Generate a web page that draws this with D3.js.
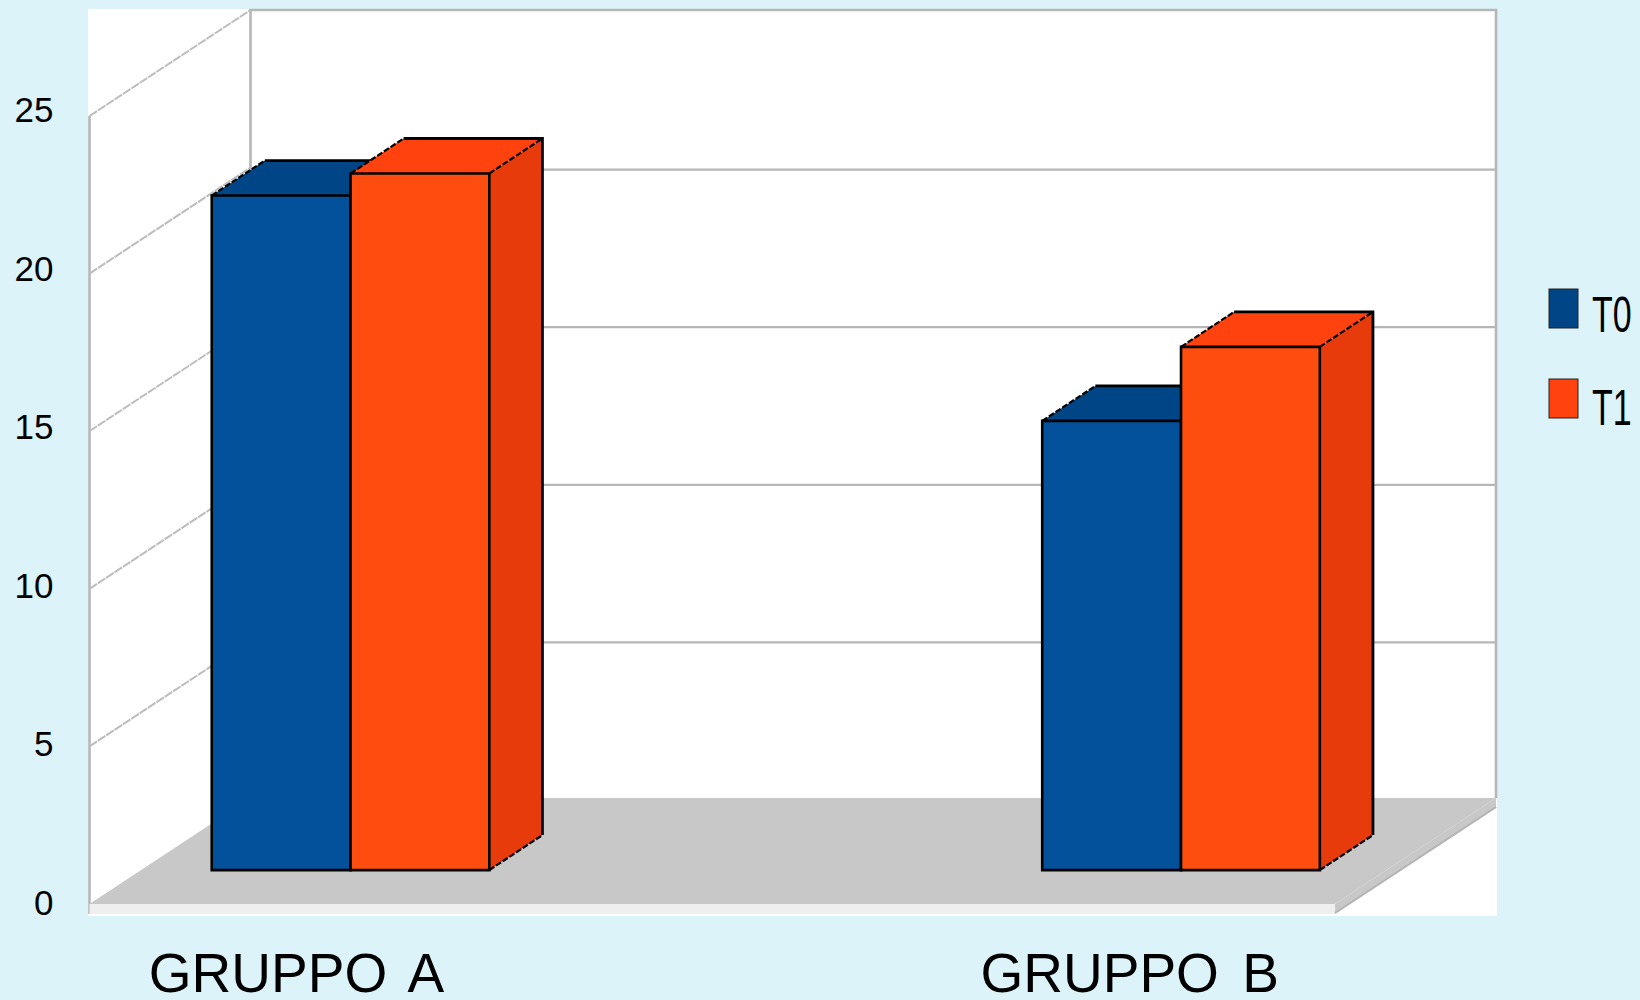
<!DOCTYPE html>
<html>
<head>
<meta charset="utf-8">
<style>
  html, body { margin: 0; padding: 0; background: #dcf4f9; }
  svg { display: block; }
  text { font-family: "Liberation Sans", Arial, sans-serif; fill: #000; }
</style>
<script src="https://cdn.jsdelivr.net/npm/d3@7"></script>
</head>
<body>
<svg id="chart" width="1640" height="1000"></svg>
<script>
const categories = ["GRUPPO A", "GRUPPO B"];
const seriesNames = ["T0", "T1"];
const valuesT0 = [21.4, 14.25];
const valuesT1 = [22.1, 16.6];
const yTicks = [0, 5, 10, 15, 20, 25];

const faceColors = {
  T0: { front: "#03509b", top: "#004586", side: "#004586", key: "#004586" },
  T1: { front: "#ff4d0f", top: "#ff420e", side: "#e83b0b", key: "#ff420e" }
};
const gridColor = "#b6b6b6";

const svg = d3.select("#chart");

// Oblique projection: a point is given by its x on the front plane, its value,
// and a depth from 0 (front of the floor) to 1 (back wall).
const DEPTH_X = 161, DEPTH_Y = 106;
const xFront = d3.scaleLinear().domain([0, 1]).range([89.5, 1335]);
const yWall = d3.scaleLinear().domain([0, 25]).range([904, 116]);
const project = (x, v, d) => [x + d * DEPTH_X, yWall(v) - d * DEPTH_Y];
const poly = pts => pts.map(p => p.join(",")).join(" ");

const xGroup = d3.scalePoint().domain(categories).range([299, 1129.5]);
const barWidth = 138.8;
const xSeries = d3.scaleBand().domain(seriesNames).range([-barWidth, barWidth]);
const BAR_NEAR = 0.32, BAR_FAR = 0.65;

// Plot background
svg.append("rect").attr("x", 88).attr("y", 9).attr("width", 1409).attr("height", 907).attr("fill", "#fff");

// Back wall: gridlines and frame
const x0 = xFront(0), x1 = xFront(1);
const backGridY = d3.scaleLinear().domain([0, 25]).range([800, 12]);
const back = svg.append("g").attr("fill", "none").attr("stroke", gridColor);
back.selectAll("line.grid").data(yTicks.filter(t => t > 0 && t < 25)).join("line")
  .attr("class", "grid")
  .attr("x1", project(x0, 0, 1)[0]).attr("x2", project(x1, 0, 1)[0])
  .attr("y1", d => backGridY(d)).attr("y2", d => backGridY(d))
  .attr("stroke-width", 2.2);
back.append("polyline")
  .attr("points", poly([project(x0, 0, 1), project(x0, 25, 1), project(x1, 25, 1), project(x1, 0, 1)]))
  .attr("stroke-width", 2.6);

// Left wall: vertical edge and receding gridlines
const wall = svg.append("g").attr("fill", "none").attr("stroke", gridColor);
wall.append("line")
  .attr("x1", x0).attr("x2", x0).attr("y1", yWall(25)).attr("y2", 914)
  .attr("stroke-width", 2.6);
wall.selectAll("line.depth").data(yTicks.filter(t => t > 0)).join("line")
  .attr("class", "depth")
  .attr("x1", d => project(x0, d, 0)[0]).attr("y1", d => project(x0, d, 0)[1])
  .attr("x2", d => project(x0, d, 1)[0]).attr("y2", d => project(x0, d, 1)[1])
  .attr("stroke", "#bdbdbd").attr("stroke-width", 2).attr("stroke-dasharray", "9 1");

// Floor slab: front lip, right side and top face
svg.append("rect")
  .attr("x", x0).attr("y", yWall(0)).attr("width", x1 - x0).attr("height", 10)
  .attr("fill", "#efefef");
svg.append("polygon")
  .attr("points", poly([project(x1, 0, 0), project(x1, 0, 1),
    [project(x1, 0, 1)[0], project(x1, 0, 1)[1] + 10], [x1, yWall(0) + 10]]))
  .attr("fill", "#c8c8c8");
svg.append("line")
  .attr("x1", project(x1, 0, 1)[0]).attr("y1", project(x1, 0, 1)[1] + 9)
  .attr("x2", x1).attr("y2", yWall(0) + 9)
  .attr("stroke", "#b4b4b4").attr("stroke-width", 2);
svg.append("polygon")
  .attr("points", poly([project(x0, 0, 0), project(x0, 0, 1), project(x1, 0, 1), project(x1, 0, 0)]))
  .attr("fill", "#c8c8c8");

// Bars: side and top faces first, front face last, T0 below T1
const rows = seriesNames.flatMap((s, si) =>
  categories.map((c, ci) => ({ s, c, v: (si === 0 ? valuesT0 : valuesT1)[ci] })));

const bars = svg.append("g").selectAll("g").data(rows).join("g")
  .attr("stroke", "#000").attr("stroke-linejoin", "miter");

const corners = d => {
  const a = xGroup(d.c) + xSeries(d.s), b = a + barWidth;
  return {
    fl0: project(a, 0, BAR_NEAR), fr0: project(b, 0, BAR_NEAR),
    fl1: project(a, d.v, BAR_NEAR), fr1: project(b, d.v, BAR_NEAR),
    bl1: project(a, d.v, BAR_FAR), br1: project(b, d.v, BAR_FAR),
    br0: project(b, 0, BAR_FAR)
  };
};

bars.append("polygon")
  .attr("points", d => { const k = corners(d); return poly([k.fr0, k.fr1, k.br1, k.br0]); })
  .attr("fill", d => faceColors[d.s].side).attr("stroke", "none");
bars.append("polygon")
  .attr("points", d => { const k = corners(d); return poly([k.fl1, k.bl1, k.br1, k.fr1]); })
  .attr("fill", d => faceColors[d.s].top).attr("stroke", "none");

// Receding edges are thin and broken; vertical and horizontal edges are solid
bars.append("polyline")
  .attr("points", d => { const k = corners(d); return poly([k.bl1, k.br1, k.br0]); })
  .attr("fill", "none").attr("stroke-width", 2.8);
bars.selectAll("line.rec").data(d => {
    const k = corners(d);
    return [[k.fl1, k.bl1], [k.fr1, k.br1], [k.fr0, k.br0]];
  }).join("line")
  .attr("class", "rec")
  .attr("x1", d => d[0][0]).attr("y1", d => d[0][1])
  .attr("x2", d => d[1][0]).attr("y2", d => d[1][1])
  .attr("stroke-width", 2.2).attr("stroke-dasharray", "6 2");
bars.append("polygon")
  .attr("points", d => { const k = corners(d); return poly([k.fl0, k.fl1, k.fr1, k.fr0]); })
  .attr("fill", d => faceColors[d.s].front).attr("stroke-width", 2.6);

// Value labels on the axis
const yLabel = d3.scaleLinear().domain([0, 25]).range([915, 122]);
svg.append("g").selectAll("text").data(yTicks).join("text")
  .attr("x", 53.5).attr("y", d => yLabel(d))
  .attr("text-anchor", "end").attr("font-size", 35)
  .text(d => d);

// Category labels
const xLabel = d3.scalePoint().domain(categories).range([296.5, 1129.7]);
svg.append("g").selectAll("text").data(categories).join("text")
  .attr("x", d => xLabel(d)).attr("y", 992)
  .attr("text-anchor", "middle").attr("font-size", 55)
  .attr("word-spacing", 8)
  .text(d => d);

// Legend
const legendY = d3.scalePoint().domain(seriesNames).range([289, 379]);
const legendText = d3.scalePoint().domain(seriesNames).range([331.5, 425]);
const legend = svg.append("g").selectAll("g").data(seriesNames).join("g");
legend.append("rect")
  .attr("x", 1549).attr("y", d => legendY(d))
  .attr("width", 29).attr("height", 39)
  .attr("fill", d => faceColors[d].key)
  .attr("stroke", "#222").attr("stroke-width", 1);
legend.append("text")
  .attr("transform", d => `translate(1592,${legendText(d)}) scale(0.68,1)`)
  .attr("font-size", 50)
  .text(d => d);
</script>
</body>
</html>
